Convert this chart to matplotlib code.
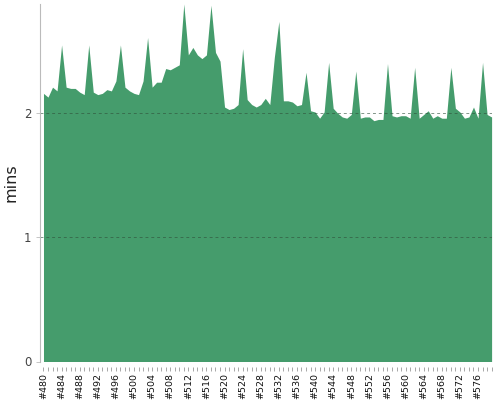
import matplotlib
matplotlib.use("Agg")
import matplotlib.pyplot as plt
from matplotlib.ticker import MultipleLocator, FixedLocator

builds = list(range(480, 580))
minutes = [
    2.16, 2.13, 2.21, 2.18, 2.55, 2.21, 2.20, 2.20, 2.17, 2.15,
    2.55, 2.17, 2.15, 2.16, 2.19, 2.18, 2.26, 2.55, 2.21, 2.18,
    2.16, 2.15, 2.26, 2.61, 2.21, 2.25, 2.25, 2.36, 2.35, 2.37,
    2.39, 2.88, 2.47, 2.53, 2.47, 2.44, 2.47, 2.87, 2.49, 2.42,
    2.05, 2.03, 2.04, 2.07, 2.52, 2.11, 2.07, 2.05, 2.07, 2.12,
    2.07, 2.45, 2.74, 2.10, 2.10, 2.09, 2.06, 2.07, 2.33, 2.02,
    2.01, 1.96, 2.01, 2.41, 2.04, 2.00, 1.97, 1.96, 1.99, 2.34,
    1.96, 1.97, 1.97, 1.94, 1.95, 1.95, 2.40, 1.98, 1.97, 1.98,
    1.98, 1.96, 2.37, 1.96, 1.99, 2.02, 1.96, 1.98, 1.96, 1.96,
    2.37, 2.04, 2.01, 1.96, 1.97, 2.05, 1.96, 2.41, 1.99, 1.97,
]
y_ticks = [0, 1, 2]
x_label_step = 4

fig = plt.figure(figsize=(5, 4), dpi=100)
ax = fig.add_axes([39.5 / 500, 1 - 361.5 / 400, (491.6 - 39.5) / 500, (361.5 - 4) / 400])

ax.fill_between(builds, minutes, 0, color="#459c6c", linewidth=0, zorder=1)

ax.set_xlim(builds[0] - 0.88, builds[-1])
ax.set_ylim(0, 2.88)

ax.yaxis.set_major_locator(FixedLocator(y_ticks))
ax.set_yticklabels([str(t) for t in y_ticks])
for t in y_ticks[1:]:
    ax.axhline(t, color="#2f4f3a", alpha=0.6, linestyle=(0, (3, 3)), linewidth=0.7, zorder=2)

major = [b for b in builds if (b - builds[0]) % x_label_step == 0]
ax.xaxis.set_major_locator(FixedLocator(major))
ax.xaxis.set_minor_locator(MultipleLocator(1))
ax.set_xticklabels([f"#{b}" for b in major])

for s in ["top", "right"]:
    ax.spines[s].set_visible(False)
ax.spines["bottom"].set_position(("outward", 4))
ax.spines["bottom"].set_visible(False)
ax.spines["left"].set_color("#bbbbbb")

ax.tick_params(axis="x", which="both", length=3, width=0.6, color="#999999", pad=1.5,
               labelrotation=90, labelsize=6.8, labelcolor="#111111")
ax.tick_params(axis="y", length=3, width=0.6, color="#bbbbbb", labelsize=8.5, labelcolor="#444444", pad=3)

ax.set_ylabel("mins", fontsize=11.5, color="#222222", labelpad=4)

fig.savefig("out.png", dpi=100)
